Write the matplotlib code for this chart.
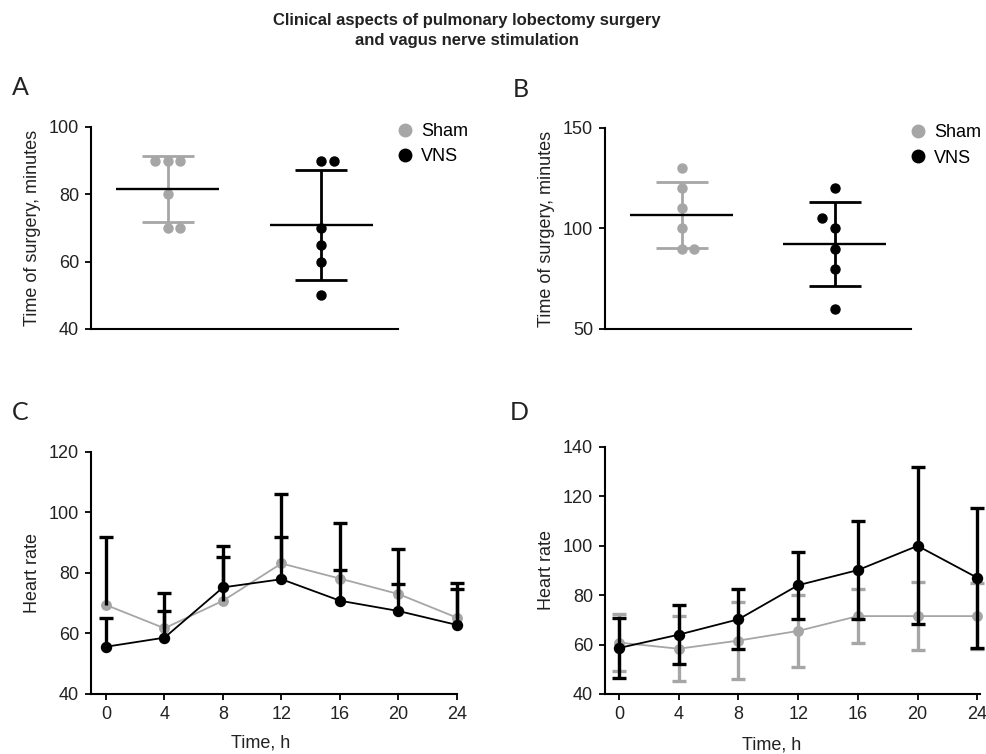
import numpy as np
import matplotlib
matplotlib.use("Agg")
import matplotlib.pyplot as plt
from matplotlib.lines import Line2D

plt.rcParams['font.family'] = ['Liberation Sans', 'DejaVu Sans']

# ---------------- data ----------------
groups = ["Sham", "VNS"]
sham_A = [90, 90, 90, 80, 70, 70]
vns_A = [90, 90, 70, 65, 60, 50]
sham_B = [130, 120, 110, 100, 90, 90]
vns_B = [120, 105, 100, 90, 80, 60]

hours = [0, 4, 8, 12, 16, 20, 24]
sham_C_mean = [69.4, 61.7, 70.8, 83.1, 78.1, 73.0, 65.2]
sham_C_sd = [22.4, 5.8, 14.5, 8.7, 2.7, 3.4, 9.5]
vns_C_mean = [55.6, 58.6, 75.2, 77.9, 70.8, 67.4, 62.8]
vns_C_sd = [9.4, 14.6, 13.8, 28.0, 25.5, 20.5, 13.7]

sham_D_mean = [60.8, 58.3, 61.6, 65.5, 71.5, 71.5, 71.5]
sham_D_sd = [11.4, 13.1, 15.7, 14.5, 10.8, 13.6, 13.5]
vns_D_mean = [58.6, 64.0, 70.2, 84.0, 90.1, 99.9, 87.0]
vns_D_sd = [12.3, 12.0, 12.1, 13.5, 19.9, 31.7, 28.4]

title = "Clinical aspects of pulmonary lobectomy surgery\nand vagus nerve stimulation"

# ---------------- style ----------------
GRAY = '#a6a6a6'
BLACK = '#000000'
W, H = 986, 754
DPI = 100
FS = 13

fig = plt.figure(figsize=(W / DPI, H / DPI), dpi=DPI)


def px_axes(left, top, right, bottom):
    return fig.add_axes([left / W, 1 - bottom / H, (right - left) / W, (bottom - top) / H])


def style_axes(ax):
    for s in ['top', 'right']:
        ax.spines[s].set_visible(False)
    for s in ['left', 'bottom']:
        ax.spines[s].set_linewidth(1.5)
        ax.spines[s].set_color('black')
    ax.tick_params(axis='both', direction='out', length=4.5, width=1.3,
                   labelsize=FS, pad=4, colors='black', labelcolor='#222222')


def swarm_offsets(values, ax_h_px, ylim, step, thresh_px=13):
    """Beeswarm-like offsets computed from the values."""
    scale = ax_h_px / (ylim[1] - ylim[0])
    order = np.argsort(values, kind='stable')
    placed = []  # (slot, value)
    slots = np.zeros(len(values))
    for i in order:
        v = values[i]
        hits = [(s, pv) for s, pv in placed if abs(pv - v) * scale < thresh_px]
        tie = any(pv == v for s, pv in hits)
        cands = [0, 1, -1, 2, -2] if tie else [0, -1, 1, -2, 2]
        for c in cands:
            if all(s != c for s, pv in hits):
                slots[i] = c
                break
        placed.append((slots[i], v))
    return slots * step


def dot_panel(ax, data_lists, ylim, yticks, ax_w_px, ax_h_px):
    style_axes(ax)
    ax.set_xlim(-0.5, 1.5)
    ax.set_ylim(*ylim)
    ax.set_yticks(yticks)
    ax.set_xticks([])
    step = 12.5 / (ax_w_px / 2.0)
    colors = [GRAY, BLACK]
    for gi, (vals, col, name) in enumerate(zip(data_lists, colors, groups)):
        vals = np.asarray(vals, float)
        m = vals.mean()
        sd = vals.std(ddof=1)
        ax.errorbar([gi], [m], yerr=[sd], fmt='none', ecolor=col,
                    elinewidth=2.0, capsize=18.7, capthick=2.0, zorder=2)
        offs = swarm_offsets(vals, ax_h_px, ylim, step)
        ax.plot(gi + offs, vals, 'o', color=col, ms=6.5, mec=col,
                linestyle='none', zorder=3, clip_on=False, label=name)
        ax.hlines(m, gi - 0.335, gi + 0.335, color='black', lw=1.7, zorder=4)
    ax.set_ylabel("Time of surgery, minutes", fontsize=FS, color='#222222', labelpad=6)
    handles = [Line2D([], [], marker='o', color=c, mec=c, ls='none', ms=9) for c in colors]
    ax.legend(handles, groups, loc='upper left', bbox_to_anchor=(0.995, 1.018),
              frameon=False, fontsize=FS, handlelength=1.0, handletextpad=0.35,
              labelspacing=0.45, borderpad=0, borderaxespad=0)


# ---------- A ----------
axA = px_axes(91, 127, 398, 329)
dot_panel(axA, [sham_A, vns_A], (40, 100), [40, 60, 80, 100], 307, 202)
# ---------- B ----------
axB = px_axes(605, 128, 911, 329)
dot_panel(axB, [sham_B, vns_B], (50, 150), [50, 100, 150], 306, 201)


def line_panel(ax, xlim, ylim, yticks):
    style_axes(ax)
    ax.set_xlim(*xlim)
    ax.set_ylim(*ylim)
    ax.set_yticks(yticks)
    ax.set_xticks(hours)
    ax.set_ylabel("Heart rate", fontsize=FS, color='#222222', labelpad=6)
    ax.set_xlabel("Time, h", fontsize=FS, color='#222222')


# ---------- C ----------
axC = px_axes(91, 451.7, 457, 694)
line_panel(axC, (-1.025, 24), (40, 120), [40, 60, 80, 100, 120])
axC.plot(hours, sham_C_mean, '-o', color=GRAY, lw=1.3, ms=6.8, zorder=2, clip_on=False)
for mean, sd in [(sham_C_mean, sham_C_sd), (vns_C_mean, vns_C_sd)]:
    eb = axC.errorbar(hours, mean, yerr=[np.zeros(len(sd)), sd], fmt='none',
                      ecolor=BLACK, elinewidth=2.4, capsize=4.8, capthick=2.4,
                      zorder=3, clip_on=False)
    eb.lines[1][0].set_visible(False)
    for art in eb.lines[2]:
        art.set_clip_on(False)
    for art in eb.lines[1]:
        art.set_clip_on(False)
axC.plot(hours, vns_C_mean, '-o', color=BLACK, lw=1.3, ms=7.2, zorder=4, clip_on=False)
axC.xaxis.set_label_coords(0.464, -0.168)

# ---------- D ----------
axD = px_axes(605, 446.7, 980, 694)
line_panel(axD, (-0.94, 24.18), (40, 140), [40, 60, 80, 100, 120, 140])
for mean, sd, col, z, ms in [(sham_D_mean, sham_D_sd, GRAY, 2, 6.8),
                             (vns_D_mean, vns_D_sd, BLACK, 3, 7.2)]:
    eb = axD.errorbar(hours, mean, yerr=sd, fmt='-o', color=col, lw=1.3,
                      ms=ms, elinewidth=2.4, capsize=4.8, capthick=2.4, zorder=z,
                      clip_on=False)
    for art in eb.lines[2]:
        art.set_clip_on(False)
    for art in eb.lines[1]:
        art.set_clip_on(False)
axD.xaxis.set_label_coords(0.443, -0.172)

# ---------- titles / panel letters ----------
fig.text(467 / W, 1 - 13 / H, title, ha='center', va='top', fontsize=12,
         fontweight='bold', color='#222222', linespacing=1.45)
for letter, x, y in [("A", 12, 95), ("B", 513, 97), ("C", 12, 420), ("D", 510, 420)]:
    fig.text(x / W, 1 - y / H, letter, ha='left', va='baseline', fontsize=18,
             family=['Lato', 'DejaVu Sans'], color='#222222')

fig.savefig("out.png", dpi=DPI)
